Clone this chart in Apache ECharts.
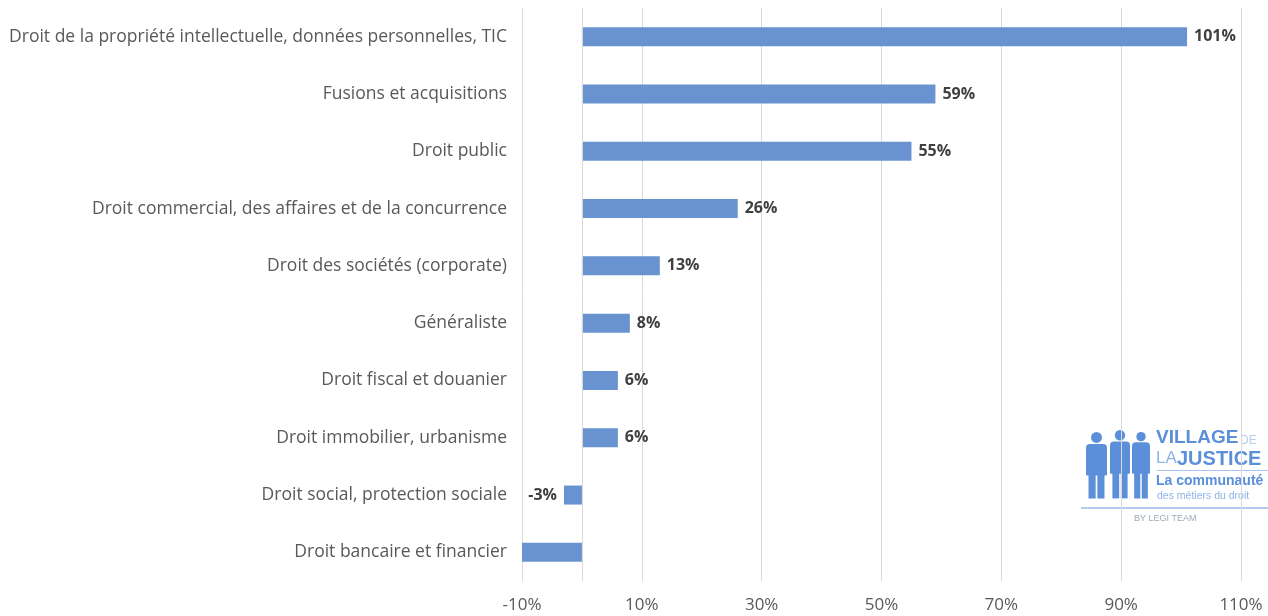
<!DOCTYPE html>
<html>
<head>
<meta charset="utf-8">
<script src="https://cdn.jsdelivr.net/npm/echarts@6/dist/echarts.min.js"></script>
<style>
html,body{margin:0;padding:0;background:#fff;}
#c{width:1268px;height:616px;}
</style>
</head>
<body>
<div id="c"></div>
<script>
var categories = [
  "Droit de la propriété intellectuelle, données personnelles, TIC",
  "Fusions et acquisitions",
  "Droit public",
  "Droit commercial, des affaires et de la concurrence",
  "Droit des sociétés (corporate)",
  "Généraliste",
  "Droit fiscal et douanier",
  "Droit immobilier, urbanisme",
  "Droit social, protection sociale",
  "Droit bancaire et financier"
];
var values = [101, 59, 55, 26, 13, 8, 6, 6, -3, -10];
var showLabel = [true, true, true, true, true, true, true, true, true, false];
var xTicks = { min: -10, max: 110, interval: 20 };

var chart = echarts.init(document.getElementById('c'));
var font = '"Open Sans", "Noto Sans", sans-serif';
var seriesData = values.map(function (v, i) {
  return {
    value: v,
    label: {
      show: showLabel[i],
      position: v < 0 ? 'left' : 'right'
    }
  };
});

var blue = '#5b8fd9';
var light = '#8fb3e6';
function figure(x, y, w, h) {
  var hr = w * 0.26;
  return [
    { type: 'circle', shape: { cx: x + w / 2, cy: y + hr, r: hr }, style: { fill: blue } },
    { type: 'rect', shape: { x: x, y: y + hr * 2 + 1, width: w, height: h * 0.45, r: [4, 4, 1, 1] }, style: { fill: blue } },
    { type: 'rect', shape: { x: x + w * 0.12, y: y + hr * 2 + h * 0.45, width: w * 0.34, height: h * 0.5 - hr * 2 }, style: { fill: blue } },
    { type: 'rect', shape: { x: x + w * 0.54, y: y + hr * 2 + h * 0.45, width: w * 0.34, height: h * 0.5 - hr * 2 }, style: { fill: blue } }
  ];
}
var logo = [].concat(
  figure(1086, 432, 21, 70),
  figure(1110, 430, 20, 72),
  figure(1132, 432, 18, 70),
  [
    { type: 'text', left: 1156, top: 428, style: { text: 'VILLAGE', fill: blue, font: 'bold 19px "Liberation Sans", Arial, sans-serif' } },
    { type: 'text', left: 1240, top: 435, style: { text: 'DE', fill: '#b7cdee', font: '12px "Liberation Sans", Arial, sans-serif' } },
    { type: 'text', left: 1156, top: 450, style: { text: 'LA', fill: light, font: '17px "Liberation Sans", Arial, sans-serif' } },
    { type: 'text', left: 1177, top: 449, style: { text: 'JUSTICE', fill: blue, font: 'bold 20px "Liberation Sans", Arial, sans-serif' } },
    { type: 'rect', shape: { x: 1157, y: 470, width: 111, height: 1 }, style: { fill: '#a9c4ea' } },
    { type: 'text', left: 1156, top: 474, style: { text: 'La communauté', fill: blue, font: 'bold 14px "Liberation Sans", Arial, sans-serif' } },
    { type: 'text', left: 1157, top: 491, style: { text: 'des métiers du droit', fill: light, font: '10.5px "Liberation Sans", Arial, sans-serif' } },
    { type: 'rect', shape: { x: 1081, y: 507, width: 187, height: 2 }, style: { fill: '#b3cbed' } },
    { type: 'text', left: 1134, top: 514, style: { text: 'BY LEGI TEAM', fill: '#a0aab6', font: '9px "Liberation Sans", Arial, sans-serif' } }
  ]
);

chart.setOption({
  animation: false,
  grid: { left: 522, right: 27, top: 8, bottom: 35, containLabel: false },
  xAxis: {
    type: 'value',
    min: xTicks.min,
    max: xTicks.max,
    interval: xTicks.interval,
    axisLine: { show: false },
    axisTick: { show: false },
    splitLine: { show: true, lineStyle: { color: '#d9d9d9', width: 1 } },
    axisLabel: { formatter: '{value}%', color: '#595959', fontSize: 17, fontFamily: font, margin: 16 }
  },
  yAxis: {
    type: 'category',
    inverse: true,
    data: categories,
    axisLine: { show: false, onZero: false },
    axisTick: { show: false },
    axisLabel: { color: '#595959', fontSize: 17.5, fontFamily: font, margin: 15 }
  },
  series: [{
    type: 'bar',
    data: seriesData,
    barWidth: 19,
    itemStyle: { color: '#6893d0' },
    label: {
      formatter: function (p) { return p.value + '%'; },
      color: '#404040',
      fontWeight: 'bold',
      fontSize: 16,
      fontFamily: font,
      distance: 7
    },
    markLine: {
      silent: true,
      symbol: ['none', 'none'],
      label: { show: false },
      lineStyle: { color: '#d9d9d9', type: 'solid', width: 1 },
      data: [{ xAxis: 0 }]
    }
  }],
  graphic: logo
});
</script>
</body>
</html>
